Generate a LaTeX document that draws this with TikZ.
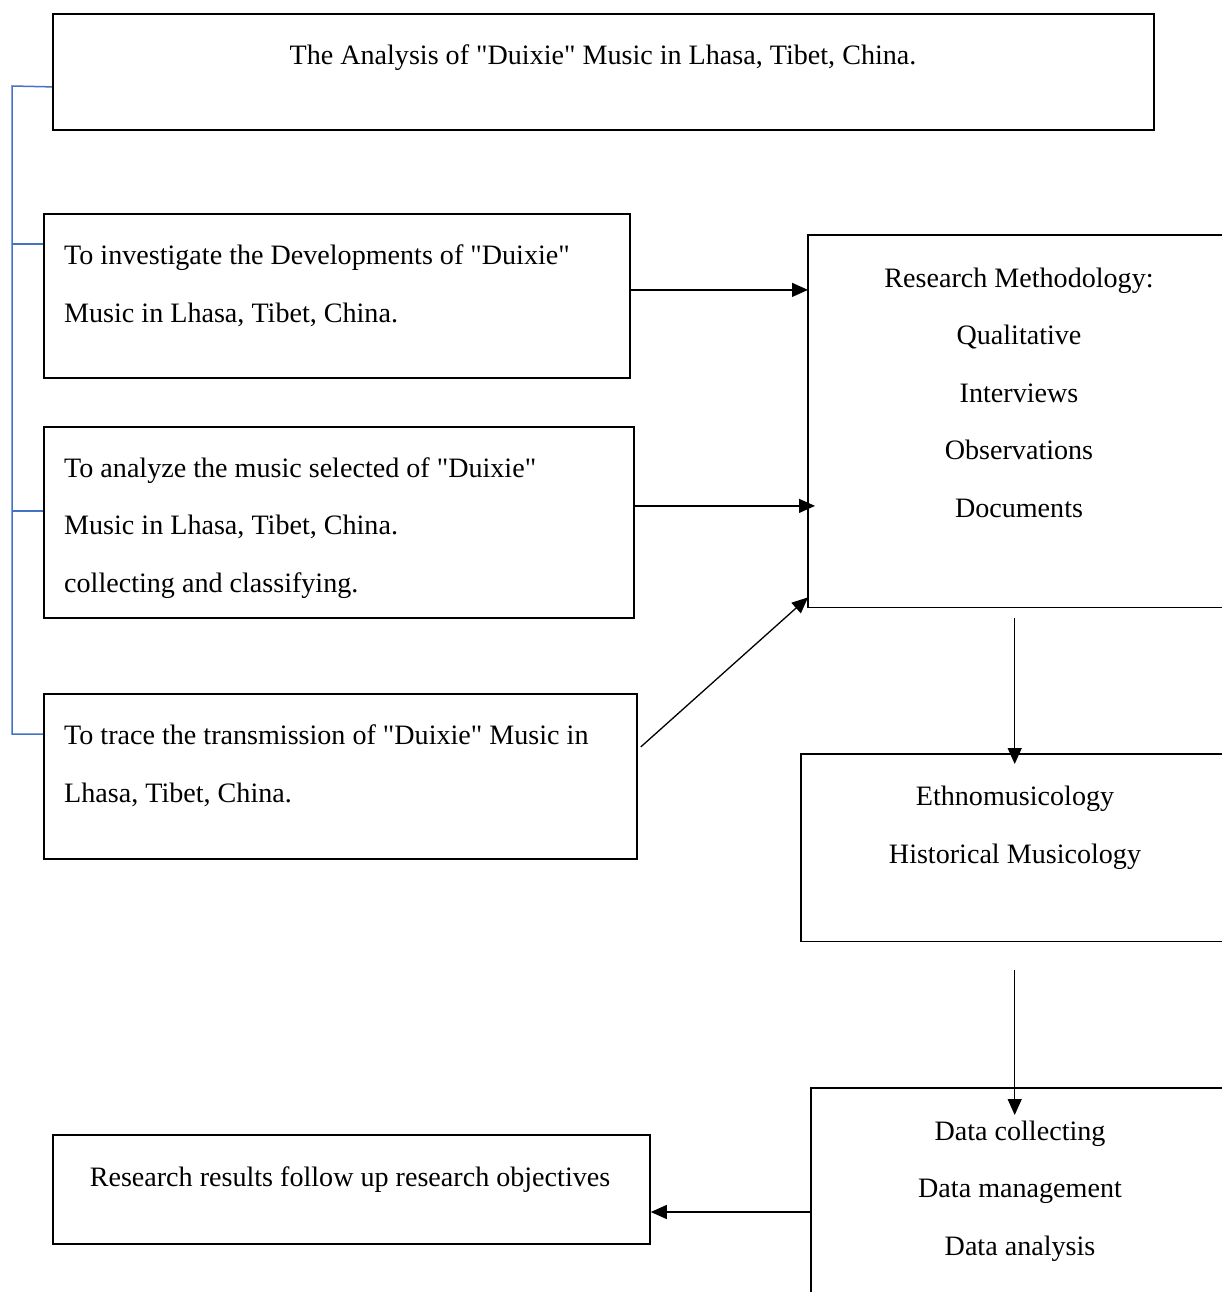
\documentclass[tikz,border=0pt]{standalone}
\usepackage{fontspec}
\setmainfont{Liberation Serif}[Ligatures=TeXOff]
\usetikzlibrary{arrows.meta,calc}
\begin{document}
\begin{tikzpicture}[x=1pt,y=-1pt,
  boxline/.style={line width=1.8pt},
  frame/.style={draw, boxline, rectangle, inner sep=0pt, anchor=north west},
  noframe/.style={rectangle, inner sep=0pt, anchor=north west},
  txt/.style={font=\fontsize{28.1}{57.5}\selectfont, inner sep=0pt},
  conn/.style={line width=1.3pt, -{Triangle[length=16pt,width=14pt]}},
  brk/.style={draw=brk, line width=1.5pt}
]
\definecolor{brk}{RGB}{68,114,196}
\useasboundingbox (0,0) rectangle (1221,1292);
\fill[white] (0,0) rectangle (1221,1292);

% boxes
\node[frame, minimum width=1101pt, minimum height=116pt] (title) at (52,13) {};
\node[frame, minimum width=586pt, minimum height=164pt] (b1) at (43,213) {};
\node[frame, minimum width=590pt, minimum height=191pt] (b2) at (43,426) {};
\node[frame, minimum width=593pt, minimum height=165pt] (b3) at (43,693) {};
\node[noframe, minimum width=413pt, minimum height=372pt] (rm) at (808,235) {};
\node[noframe, minimum width=420pt, minimum height=187pt] (eth) at (801,754) {};
\node[noframe, minimum width=410pt, minimum height=212pt] (data) at (811,1088) {};
\node[frame, minimum width=597pt, minimum height=109pt] (res) at (52,1134) {};

% open-sided frames (cut by picture edge)
\draw[boxline] ([xshift=4pt]rm.north east) -| (rm.south west) -- ([xshift=4pt]rm.south east);
\draw[boxline] ([xshift=4pt]eth.north east) -| (eth.south west) -- ([xshift=4pt]eth.south east);
\draw[boxline] ([xshift=4pt]data.north east) -| ([yshift=-4pt]data.south west);

% texts (base anchor = baseline of the last line)
\node[txt, anchor=base] (t0) at (603,65) {The Analysis of "Duixie" Music in Lhasa, Tibet, China.};
\node[txt, anchor=base west, align=left] (t1) at (64,322) {To investigate the Developments of "Duixie"\\Music in Lhasa, Tibet, China.};
\node[txt, anchor=base west, align=left] (t2) at (64,592) {To analyze the music selected of "Duixie"\\Music in Lhasa, Tibet, China.\\collecting and classifying.};
\node[txt, anchor=base west, align=left] (t3) at (64,802) {To trace the transmission of "Duixie" Music in\\Lhasa, Tibet, China.};
\node[txt, anchor=base, align=center] (t4) at (1019,517) {Research Methodology:\\Qualitative\\Interviews\\Observations\\Documents};
\node[txt, anchor=base, align=center] (t5) at (1015,863) {Ethnomusicology\\Historical Musicology};
\node[txt, anchor=base, align=center] (t6) at (1020,1255) {Data collecting\\Data management\\Data analysis};
\node[txt, anchor=base] (t7) at (350,1186) {Research results follow up research objectives};

% bracket
\coordinate (brtop) at (12,86);
\coordinate (brbot) at (12,734);
\draw[brk] ([yshift=-15pt]title.west) -- (brtop) -- (brbot) -- (brbot -| b3.west);
\draw[brk] (brtop |- 0,244) -- (b1.west |- 0,244);
\draw[brk] (brtop |- 0,511) -- (b2.west |- 0,511);

% connectors
\draw[conn] ([yshift=6pt]b1.east) -- ([yshift=6pt]b1.east -| rm.west);
\draw[conn] ([yshift=16.5pt]b2.east) -- ([yshift=16.5pt,xshift=7pt]b2.east -| rm.west);
\draw[conn] ([xshift=3pt,yshift=29.5pt]b3.east) -- ([yshift=10pt]rm.south west);
\draw[conn] ([yshift=-11pt]rm.south) -- ([yshift=-10pt]rm.south |- eth.north);
\draw[conn] ([yshift=-29pt]eth.south -| rm.south) -- ([yshift=-27pt]rm.south |- data.north);
\draw[conn] (data.west |- 0,1212) -- (res.east |- 0,1212);
\end{tikzpicture}
\end{document}
